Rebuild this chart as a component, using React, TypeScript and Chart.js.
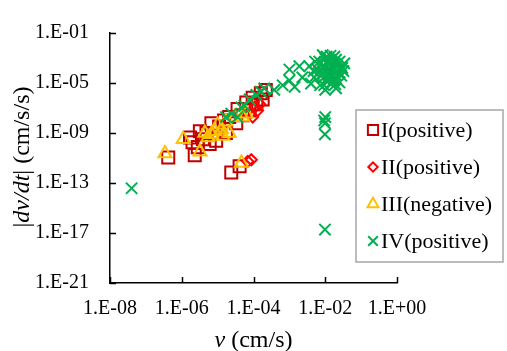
import React, { useEffect, useRef } from 'react';
import { Chart, registerables } from 'chart.js';
import { drawPoint } from 'chart.js/helpers';

Chart.register(...registerables);

const seriesNames = ['I(positive)', 'II(positive)', 'III(negative)', 'IV(positive)'];

const s1V = [4.2e-7, 2.3e-6, 2.0e-6, 1.7e-6, 2.4e-5, 4.9e-6, 6.7e-6, 1.1e-5, 2.1e-5, 3.6e-5, 6.3e-5, 9.5e-5, 1.6e-4, 2.2e-4, 9.1e-6, 3.9e-6, 1.7e-5, 3.3e-5, 5.0e-5, 7.8e-5, 1.2e-4, 1.8e-4, 6.0e-6, 3.2e-6, 4.1e-5, 1.5e-5, 2.8e-6];
const s1A = [1.1e-11, 1.7e-11, 1.8e-10, 4.3e-10, 6.9e-13, 1.0e-9, 6.0e-9, 3.3e-9, 1.9e-8, 8.3e-8, 2.7e-7, 6.5e-7, 1.5e-6, 2.8e-6, 2.4e-10, 3.2e-10, 1.0e-9, 6.0e-9, 2.6e-8, 6.2e-8, 2.0e-7, 4.8e-7, 1.3e-10, 1.4e-9, 2.2e-12, 1.0e-8, 7.4e-11];

const s2V = [8.7e-5, 6.9e-5, 9.5e-5, 1.3e-4, 7.8e-5, 1.5e-4, 1.1e-4];
const s2A = [7.2e-12, 5.4e-12, 1.9e-8, 6.2e-8, 3.5e-8, 2.0e-7, 1.2e-7];

const s3V = [3.4e-7, 1.1e-6, 3.2e-6, 4.6e-5, 4.4e-6, 8.3e-6, 1.3e-5, 2.1e-5, 1.0e-5, 1.7e-5, 3.0e-5, 5.0e-5, 6.3e-5, 6.7e-6, 1.4e-5, 5.3e-6];
const s3A = [2.3e-11, 3.2e-10, 3.1e-11, 4.0e-12, 1.0e-9, 1.4e-9, 1.9e-9, 1.0e-9, 4.5e-9, 7.9e-9, 1.9e-8, 1.9e-8, 3.5e-8, 7.8e-10, 5.8e-10, 4.3e-10];

const s4V = [4.0e-8, 9.8e-3, 9.8e-3, 9.8e-3, 1.0e-2, 9.3e-3,
  1.7e-5, 2.4e-5, 3.6e-5, 4.6e-5, 5.6e-5, 7.8e-5, 1.2e-4, 1.6e-4, 2.0e-4, 3.8e-4, 6.5e-4, 1.0e-3, 1.4e-3, 2.3e-3, 4.0e-3, 4.9e-3,
  1.0e-3, 1.9e-3, 3.6e-3, 8.5e-3, 3.0e-2, 1.0e-2, 2.0e-2,
  6.8e-3, 9.3e-3, 1.3e-2, 1.8e-2, 2.5e-2, 1.1e-2, 1.5e-2, 2.1e-2, 2.8e-2, 7.8e-3, 1.1e-2, 1.5e-2, 2.5e-2, 6.0e-3, 1.8e-2, 1.2e-2, 1.9e-2, 8.7e-3, 1.4e-2, 3.2e-2, 5.2e-3, 7.2e-3, 2.0e-2, 1.0e-2,
  1.1e-2, 1.5e-2, 2.1e-2, 1.3e-2, 1.8e-2, 1.0e-2, 2.5e-2, 1.5e-2, 8.3e-3, 2.0e-2, 1.2e-2, 1.7e-2, 2.8e-2, 6.5e-3, 1.4e-2, 9.3e-3, 3.4e-2, 4.7e-3, 1.9e-2, 1.1e-2];
const s4A = [3.8e-14, 1.9e-17, 7.8e-10, 6.0e-9, 1.9e-8, 1.0e-8,
  1.9e-8, 3.5e-8, 1.9e-8, 1.1e-7, 1.5e-7, 4.8e-7, 1.1e-6, 2.0e-6, 3.7e-6, 2.8e-6, 6.6e-6, 1.6e-5, 4.9e-6, 2.8e-5, 8.9e-6, 2.8e-5,
  1.2e-4, 2.2e-4, 2.2e-4, 1.7e-3, 1.6e-4, 2.8e-6, 3.7e-6,
  5.2e-4, 2.2e-4, 7.4e-4, 3.7e-4, 5.2e-4, 9.1e-5, 5.4e-5, 9.1e-5, 3.8e-5, 3.8e-5, 1.6e-5, 1.1e-5, 1.1e-5, 1.3e-4, 1.3e-3, 3.1e-4, 1.5e-4, 6.5e-5, 2.7e-5, 9.1e-5, 5.2e-4, 6.6e-6, 2.2e-5, 8.9e-4,
  3.7e-4, 1.8e-4, 2.6e-4, 1.3e-4, 6.5e-5, 3.8e-5, 6.5e-5, 5.2e-4, 1.8e-4, 7.4e-4, 4.5e-5, 2.2e-5, 1.8e-4, 6.5e-5, 1.5e-3, 6.6e-6, 3.7e-4, 9.1e-5, 7.8e-6, 1.3e-3];

const xTickValues = [1e-8, 1e-6, 1e-4, 1e-2, 1];
const xTickLabels = ['1.E-08', '1.E-06', '1.E-04', '1.E-02', '1.E+00'];
const yTickValues = [1e-21, 1e-17, 1e-13, 1e-9, 1e-5, 1e-1];
const yTickLabels = ['1.E-21', '1.E-17', '1.E-13', '1.E-09', '1.E-05', '1.E-01'];

const seriesColors = ['#C00000', '#FF0000', '#FFC000', '#00B050'];
const seriesStyles = ['rect', 'rectRot', 'triangle', 'crossRot'];
const seriesRadius = [8.5, 5.5, 7.5, 8];

const FONT = '"Liberation Serif", "Times New Roman", serif';

const toPts = (xs: number[], ys: number[]) => xs.map((x, i) => ({ x, y: ys[i] }));

const decorPlugin = {
  id: 'decor',
  beforeDatasetsDraw(chart: any) {
    const { ctx, chartArea: ca, scales } = chart;
    ctx.save();
    ctx.strokeStyle = '#000';
    ctx.lineWidth = 1.5;
    ctx.beginPath();
    xTickValues.forEach((v) => {
      const px = Math.round(scales.x.getPixelForValue(v)) + 0.5;
      ctx.moveTo(px, ca.bottom);
      ctx.lineTo(px, ca.bottom - 6);
    });
    yTickValues.forEach((v) => {
      const py = Math.round(scales.y.getPixelForValue(v)) + 0.5;
      ctx.moveTo(ca.left, py);
      ctx.lineTo(ca.left + 6, py);
    });
    ctx.stroke();
    ctx.restore();
  },
  afterDraw(chart: any) {
    const { ctx, chartArea: ca } = chart;
    ctx.save();
    ctx.fillStyle = '#000';
    const xParts: [string, string][] = [['v', 'italic'], [' (cm/s)', 'normal']];
    const measure = (parts: [string, string][], size: number) =>
      parts.reduce((w, [t, s]) => {
        ctx.font = `${s} ${size}px ${FONT}`;
        return w + ctx.measureText(t).width;
      }, 0);
    let w = measure(xParts, 24);
    let x0 = (ca.left + ca.right) / 2 - w / 2;
    ctx.textBaseline = 'alphabetic';
    ctx.textAlign = 'left';
    xParts.forEach(([t, s]) => {
      ctx.font = `${s} 24px ${FONT}`;
      ctx.fillText(t, x0, ca.bottom + 64);
      x0 += ctx.measureText(t).width;
    });
    const yParts: [string, string][] = [['|', 'normal'], ['dv/dt', 'italic'], ['|', 'normal'], [' (cm/s/s)', 'normal']];
    w = measure(yParts, 24);
    ctx.save();
    ctx.translate(29, (ca.top + ca.bottom) / 2 - 1);
    ctx.rotate(-Math.PI / 2);
    let y0 = -w / 2;
    yParts.forEach(([t, s]) => {
      ctx.font = `${s} 24px ${FONT}`;
      ctx.fillText(t, y0, 0);
      y0 += ctx.measureText(t).width;
    });
    ctx.restore();

    const lx = ca.right - 41;
    const ly = 110;
    const lw = 147;
    const lh = 152;
    ctx.strokeStyle = '#A6A6A6';
    ctx.lineWidth = 1.5;
    ctx.strokeRect(lx, ly, lw, lh);
    seriesNames.forEach((name, i) => {
      const cy = ly + 20 + i * 37;
      ctx.strokeStyle = seriesColors[i];
      ctx.fillStyle = 'rgba(0,0,0,0)';
      ctx.lineWidth = 2;
      drawPoint(ctx, { pointStyle: seriesStyles[i], radius: seriesRadius[i] * 0.85, borderWidth: 2, rotation: 0 } as any, lx + 17, cy);
      ctx.fillStyle = '#000';
      ctx.font = `22px ${FONT}`;
      ctx.textBaseline = 'middle';
      ctx.textAlign = 'left';
      ctx.fillText(name, lx + 25, cy + 1);
    });
    ctx.restore();
  },
};

export default function App() {
  const ref = useRef<HTMLCanvasElement | null>(null);
  useEffect(() => {
    if (!ref.current) return;
    const data = [toPts(s1V, s1A), toPts(s2V, s2A), toPts(s3V, s3A), toPts(s4V, s4A)];
    const chart = new Chart(ref.current, {
      type: 'scatter',
      data: {
        datasets: data.map((d, i) => ({
          label: seriesNames[i],
          data: d,
          pointStyle: seriesStyles[i] as any,
          pointRadius: seriesRadius[i],
          pointBorderWidth: 2,
          borderColor: seriesColors[i],
          backgroundColor: 'rgba(0,0,0,0)',
          order: 3 - i,
        })),
      },
      options: {
        animation: false,
        responsive: false,
        devicePixelRatio: 1,
        layout: { padding: { left: 0, right: 110, top: 20, bottom: 0 } },
        plugins: { legend: { display: false }, tooltip: { enabled: false } },
        scales: {
          x: {
            type: 'logarithmic',
            min: 1e-8,
            max: 1,
            afterBuildTicks: (s: any) => { s.ticks = xTickValues.map((v) => ({ value: v })); },
            afterFit: (s: any) => { s.height = 68; },
            grid: { display: true, drawOnChartArea: false, drawTicks: false },
            border: { display: true, color: '#000', width: 1.5 },
            ticks: {
              padding: 14,
              color: '#000',
              font: { family: FONT, size: 20 },
              maxRotation: 0,
              callback: (_v: any, i: number) => xTickLabels[i],
            },
          },
          y: {
            type: 'logarithmic',
            min: 1e-21,
            max: 1e-1,
            afterBuildTicks: (s: any) => { s.ticks = yTickValues.map((v) => ({ value: v })); },
            afterFit: (s: any) => { s.width = 110; },
            grid: { display: true, drawOnChartArea: false, drawTicks: false },
            border: { display: true, color: '#000', width: 1.5 },
            ticks: {
              padding: 21,
              color: '#000',
              font: { family: FONT, size: 20 },
              callback: (_v: any, i: number) => yTickLabels[i],
            },
          },
        },
      },
      plugins: [decorPlugin],
    });
    return () => chart.destroy();
  }, []);
  return (
    <div style={{ position: 'fixed', left: 0, top: 0, width: 507, height: 351, background: '#fff' }}>
      <canvas ref={ref} width={507} height={351} style={{ width: 507, height: 351 }} />
    </div>
  );
}
